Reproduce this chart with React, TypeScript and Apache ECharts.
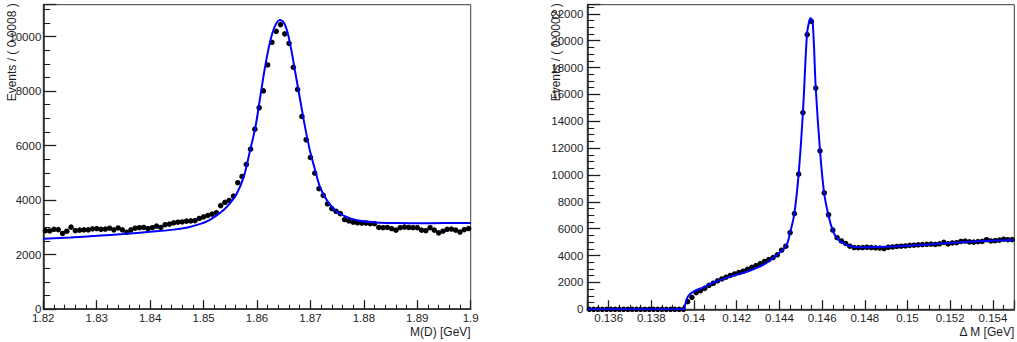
import React, { useEffect, useRef } from "react";
import * as echarts from "echarts";

// ---- Left panel: M(D) ----
const LEFT_MIN = 1.82;
const LEFT_MAX = 1.9;
const LEFT_BIN = 0.0008;
const LEFT_YMAX = 11170;
const leftCounts = [
  2880, 2870, 2930, 2920, 2780, 2860, 3010, 2880, 2900, 2910,
  2910, 2950, 2960, 2930, 2940, 2970, 2910, 2980, 2910, 2820,
  2910, 2970, 2990, 3000, 2960, 2990, 3050, 3000, 3100, 3120,
  3170, 3190, 3200, 3230, 3240, 3250, 3330, 3390, 3440, 3490,
  3540, 3800, 3920, 3990, 4150, 4640, 4870, 5310, 5870, 6605,
  7390, 8010, 8960, 9790, 10195, 10440, 10100, 9755, 8875, 8060,
  7070, 6216, 5568, 4993, 4420, 4176, 3860, 3690, 3590, 3505,
  3290, 3240, 3190, 3170, 3160, 3160, 3140, 3140, 3000, 2990,
  3000, 2960, 2900, 2990, 3015, 3000, 2990, 2990, 2900, 2880,
  2990, 2900, 2800, 2860, 2930, 2940, 2900, 2830, 2920, 2960,
];
const leftFitX = [
  1.82, 1.825, 1.83, 1.835, 1.84, 1.844, 1.847, 1.8494, 1.851, 1.8525,
  1.8537, 1.855, 1.8562, 1.8575, 1.8587, 1.8597, 1.8606, 1.8615, 1.8625, 1.8634,
  1.8643, 1.8653, 1.8662, 1.8671, 1.8681, 1.869, 1.8699, 1.8709, 1.8718, 1.8731,
  1.8746, 1.8762, 1.8787, 1.8824, 1.886, 1.89, 1.895, 1.9,
];
const leftFitY = [
  2580, 2630, 2690, 2760, 2840, 2910, 3000, 3130, 3260, 3450,
  3626, 3900, 4238, 4846, 5824, 6678, 7777, 8875, 9853, 10403,
  10610, 10403, 9732, 8755, 7656, 6678, 5824, 5091, 4480, 3993,
  3626, 3430, 3260, 3180, 3160, 3155, 3158, 3160,
];

// ---- Right panel: Delta M ----
const RIGHT_MIN = 0.135;
const RIGHT_MAX = 0.155;
const RIGHT_BIN = 0.0002;
const RIGHT_YMAX = 22680;
const rightCounts = [
  0, 0, 0, 0, 0, 0, 0, 0, 0, 0,
  0, 0, 0, 0, 0, 0, 0, 0, 0, 0,
  0, 0, 0, 570, 890, 1240, 1390, 1560, 1790, 1940,
  2120, 2260, 2390, 2520, 2630, 2740, 2840, 2980, 3130, 3260,
  3400, 3560, 3700, 3850, 4060, 4400, 4700, 5710, 7130, 10070,
  14650, 20460, 21440, 16470, 11800, 8660, 7040, 5900, 5330, 5090,
  4900, 4700, 4600, 4590, 4600, 4620, 4600, 4580, 4560, 4520,
  4620, 4640, 4680, 4700, 4720, 4760, 4770, 4800, 4820, 4840,
  4860, 4830, 4880, 4990, 4870, 4940, 4960, 5050, 5080, 5020,
  5000, 5040, 5060, 5180, 5090, 5110, 5150, 5220, 5180, 5190,
];
const rightFitFlatX = [0.135, 0.13954];
const rightFitFlatY = [0, 0];
const rightFitX = [
  0.13954, 0.13962, 0.13973, 0.13997, 0.14043, 0.1409, 0.14168, 0.14247, 0.14324, 0.14387,
  0.14431, 0.14449, 0.1447, 0.1449, 0.1451, 0.14529, 0.1454, 0.14546, 0.14556, 0.1457,
  0.1459, 0.14609, 0.14629, 0.14649, 0.14668, 0.14699, 0.14746, 0.14809, 0.149, 0.1498,
  0.151, 0.15293, 0.155,
];
const rightFitY = [
  0, 566, 990, 1310, 1638, 1980, 2430, 2800, 3300, 4040,
  4713, 5660, 7150, 10100, 14670, 20480, 21490, 21670, 21300, 16480,
  11810, 8680, 7020, 5900, 5330, 4914, 4660, 4616, 4650, 4713,
  4830, 5034, 5160,
];

const leftYTitle = "Events / ( 0.0008 )";
const rightYTitle = "Events / ( 0.0002 )";
const leftXTitle = "M(D) [GeV]";
const rightXTitle = "\u0394 M [GeV]";

const FONT = "'Liberation Sans', Arial, Helvetica, sans-serif";
const INK = "#1e1e1e";

const fmt = (v: number) => String(+Number(v).toFixed(6));

function binPoints(min: number, width: number, counts: number[]) {
  return counts.map((c, i) => [min + (i + 0.5) * width, c]);
}
function zip(xs: number[], ys: number[]) {
  return xs.map((x, i) => [x, ys[i]]);
}

function xAxisBase(gridIndex: number, minorSplit: number) {
  return {
    type: "value",
    gridIndex,
    axisLine: { show: true, onZero: false, lineStyle: { color: INK, width: 1.5 } },
    axisTick: { show: true, inside: true, length: 9, lineStyle: { color: INK, width: 1.3 } },
    minorTick: { show: true, splitNumber: minorSplit, length: 4.5, lineStyle: { color: INK, width: 1.1 } },
    splitLine: { show: false },
    minorSplitLine: { show: false },
    axisLabel: {
      show: true,
      margin: 3,
      fontSize: 11.5,
      color: INK,
      fontFamily: FONT,
      showMinLabel: true,
      showMaxLabel: true,
      formatter: fmt,
    },
  };
}
function yAxisBase(gridIndex: number, max: number, margin: number) {
  return {
    type: "value",
    gridIndex,
    min: 0,
    max,
    interval: 2000,
    axisLine: { show: true, onZero: false, lineStyle: { color: INK, width: 1.5 } },
    axisTick: { show: true, inside: true, length: 13, lineStyle: { color: INK, width: 1.3 } },
    minorTick: { show: true, splitNumber: 4, length: 7, lineStyle: { color: INK, width: 1.1 } },
    splitLine: { show: false },
    minorSplitLine: { show: false },
    axisLabel: {
      show: true,
      margin,
      fontSize: 11.5,
      color: INK,
      fontFamily: FONT,
      showMaxLabel: false,
      formatter: fmt,
    },
  };
}

export default function App() {
  const ref = useRef<HTMLDivElement>(null);
  useEffect(() => {
    if (!ref.current) return;
    const chart = echarts.init(ref.current, undefined, { renderer: "svg" });
    const dotStyle = { color: "#000", opacity: 1 };
    const option: any = {
      animation: false,
      backgroundColor: "#ffffff",
      grid: [
        { left: 43.3, top: 4.7, width: 427.4, height: 304.5, show: true, borderColor: "#3a3a3a", borderWidth: 1, backgroundColor: "transparent" },
        { left: 587.3, top: 4.7, width: 427, height: 304.6, show: true, borderColor: "#3a3a3a", borderWidth: 1, backgroundColor: "transparent" },
      ],
      xAxis: [
        { ...xAxisBase(0, 5), min: LEFT_MIN, max: LEFT_MAX, interval: 0.01 },
        {
          ...xAxisBase(1, 4),
          min: RIGHT_MIN,
          max: RIGHT_MAX,
          splitNumber: 10,
          axisLabel: { ...xAxisBase(1, 4).axisLabel, showMinLabel: false, showMaxLabel: false },
        },
      ],
      yAxis: [yAxisBase(0, LEFT_YMAX, 2), yAxisBase(1, RIGHT_YMAX, 4)],
      series: [
        {
          type: "scatter",
          xAxisIndex: 0,
          yAxisIndex: 0,
          symbol: "circle",
          symbolSize: 5.5,
          itemStyle: dotStyle,
          data: binPoints(LEFT_MIN, LEFT_BIN, leftCounts),
          z: 2,
        },
        {
          type: "line",
          xAxisIndex: 0,
          yAxisIndex: 0,
          showSymbol: false,
          smooth: 0.35,
          lineStyle: { color: "#0000ff", width: 2 },
          data: zip(leftFitX, leftFitY),
          z: 3,
        },
        {
          type: "scatter",
          xAxisIndex: 1,
          yAxisIndex: 1,
          symbol: "circle",
          symbolSize: 5.5,
          itemStyle: dotStyle,
          data: binPoints(RIGHT_MIN, RIGHT_BIN, rightCounts),
          z: 2,
        },
        {
          type: "line",
          xAxisIndex: 1,
          yAxisIndex: 1,
          showSymbol: false,
          smooth: false,
          lineStyle: { color: "#0000ff", width: 2 },
          data: zip(rightFitFlatX, rightFitFlatY),
          z: 3,
        },
        {
          type: "line",
          xAxisIndex: 1,
          yAxisIndex: 1,
          showSymbol: false,
          smooth: 0.35,
          lineStyle: { color: "#0000ff", width: 2 },
          data: zip(rightFitX, rightFitY),
          z: 3,
        },
      ],
      graphic: [
        {
          type: "text",
          x: 12,
          y: 3.3,
          rotation: Math.PI / 2,
          style: { text: leftYTitle, textAlign: "right", textVerticalAlign: "middle", fontSize: 12, fontFamily: FONT, fill: INK },
          z: 10,
        },
        {
          type: "text",
          x: 555.7,
          y: 3.3,
          rotation: Math.PI / 2,
          style: { text: rightYTitle, textAlign: "right", textVerticalAlign: "middle", fontSize: 12, fontFamily: FONT, fill: INK },
          z: 10,
        },
        {
          type: "text",
          x: 470.7,
          y: 331.7,
          style: { text: leftXTitle, textAlign: "right", textVerticalAlign: "middle", fontSize: 12, fontFamily: FONT, fill: INK },
          z: 10,
        },
        {
          type: "text",
          x: 1014.3,
          y: 331.7,
          style: { text: rightXTitle, textAlign: "right", textVerticalAlign: "middle", fontSize: 12, fontFamily: FONT, fill: INK },
          z: 10,
        },
      ],
    };
    chart.setOption(option);
    return () => chart.dispose();
  }, []);
  return (
    <div
      ref={ref}
      style={{ position: "fixed", left: 0, top: 0, width: 1017, height: 342, background: "#fff" }}
    />
  );
}
